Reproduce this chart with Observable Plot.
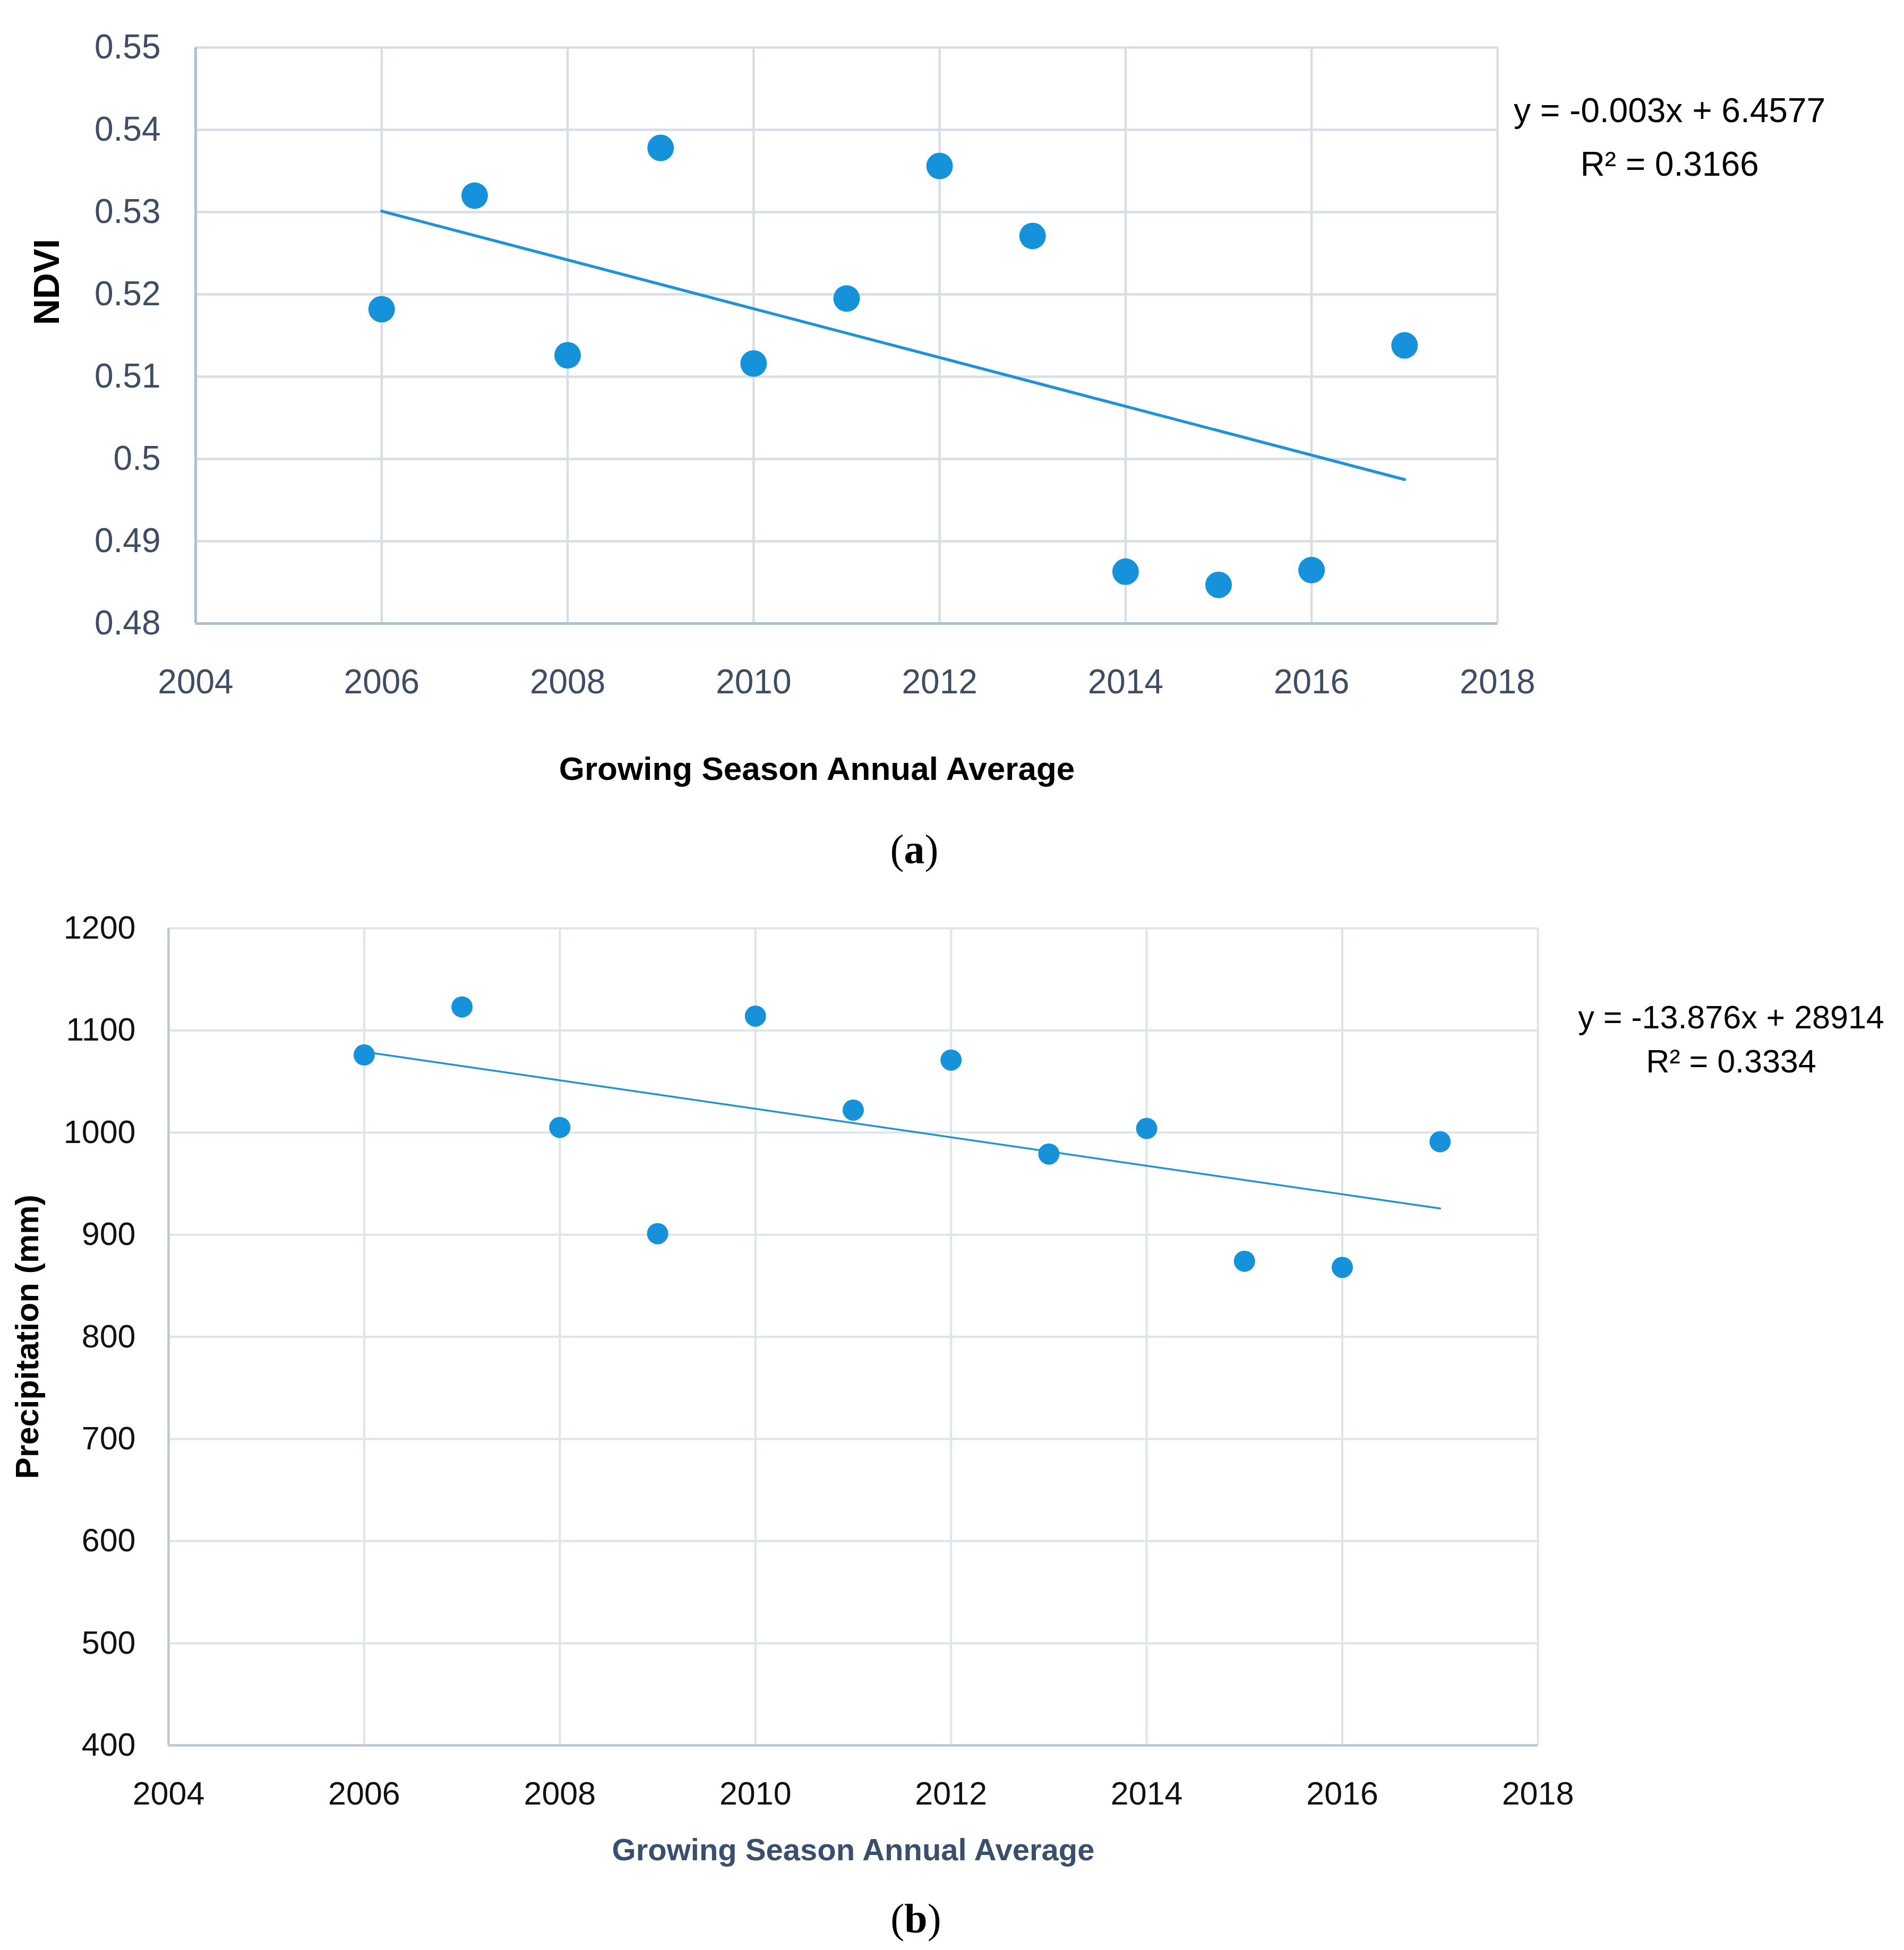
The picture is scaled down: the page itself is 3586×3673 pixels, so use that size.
<!DOCTYPE html>
<html>
<head>
<meta charset="utf-8">
<script src="https://cdn.jsdelivr.net/npm/d3@7"></script>
<script src="https://cdn.jsdelivr.net/npm/@observablehq/plot@0.6"></script>
<style>
  html, body { margin: 0; padding: 0; background: #ffffff; }
  #wrap { position: relative; width: 3586px; height: 3673px; background: #ffffff; overflow: hidden; }
  #wrap svg { position: absolute; left: 0; }
  .cap { position: absolute; transform: translate(-50%, -50%); font-family: "Liberation Serif", "Times New Roman", serif; font-size: 78px; line-height: 1; color: #000; white-space: nowrap; }
</style>
</head>
<body>
<div id="wrap"></div>
<script>
// ---- data ----
const years = [2006, 2007, 2008, 2009, 2010, 2011, 2012, 2013, 2014, 2015, 2016, 2017];
const ndvi = [0.5182, 0.5320, 0.5126, 0.5378, 0.5116, 0.5195, 0.5356, 0.5271, 0.4863, 0.4847, 0.4865, 0.5138];
const precip = [1076, 1123, 1005, 901, 1114, 1022, 1071, 979, 1004, 874, 868, 991];
const yearTicks = [2004, 2006, 2008, 2010, 2012, 2014, 2016, 2018];
const ndviTicks = [0.48, 0.49, 0.50, 0.51, 0.52, 0.53, 0.54, 0.55];
const precipTicks = [400, 500, 600, 700, 800, 900, 1000, 1100, 1200];
const xTitle = "Growing Season Annual Average";
const ndviLabel = "NDVI";
const precipLabel = "Precipitation (mm)";
const ndviEq = ["y = -0.003x + 6.4577", "R\u00B2 = 0.3166"];
const precipEq = ["y = -13.876x + 28914", "R\u00B2 = 0.3334"];

const ndviData = years.map((year, i) => ({year, value: ndvi[i]}));
const precipData = years.map((year, i) => ({year, value: precip[i]}));

const SANS = "Liberation Sans, Arial, sans-serif";
const DOT = "#1592D9";
const W = 3586;

// ---- chart (a) ----
const m1 = {left: 368, right: W - 2820, top: 89, bottom: 1700 - 1174};
const chartA = Plot.plot({
  width: W,
  height: 1700,
  marginLeft: m1.left, marginRight: m1.right, marginTop: m1.top, marginBottom: m1.bottom,
  style: {fontFamily: SANS, fontSize: "64px", color: "#3E4D63", background: "#ffffff", overflow: "visible"},
  x: {domain: [2004, 2018], ticks: yearTicks, tickFormat: d => String(d), tickSize: 0, tickPadding: 86, label: null},
  y: {domain: [0.48, 0.55], ticks: ndviTicks, tickFormat: d => String(+d.toFixed(2)), tickSize: 0, tickPadding: 66, label: null},
  marks: [
    Plot.ruleX(yearTicks, {stroke: "#D8DEE6", strokeWidth: 4.5}),
    Plot.ruleY(ndviTicks, {stroke: "#D8DEE6", strokeWidth: 4.5}),
    Plot.ruleX([yearTicks[0]], {stroke: "#AFBFD2", strokeWidth: 5}),
    Plot.ruleY([ndviTicks[0]], {stroke: "#AFBFD2", strokeWidth: 5}),
    Plot.linearRegressionY(ndviData, {x: "year", y: "value", ci: 0, stroke: "#1F93D6", strokeWidth: 5.5}),
    Plot.dot(ndviData, {x: "year", y: "value", r: 25, fill: DOT, stroke: "none"}),
    Plot.text([xTitle], {text: d => d, frameAnchor: "bottom", lineAnchor: "middle", dx: -56, dy: 275, fontFamily: SANS, fontWeight: "bold", fontSize: 62, fill: "#000000"}),
    Plot.text([ndviLabel], {text: d => d, frameAnchor: "left", lineAnchor: "middle", rotate: -90, textAnchor: "middle", dx: -279, dy: -101, fontFamily: SANS, fontWeight: "bold", fontSize: 68, fill: "#000000"}),
    Plot.text([ndviEq[0]], {text: d => d, frameAnchor: "top-right", lineAnchor: "middle", textAnchor: "middle", dx: 324, dy: 120, fontFamily: SANS, fontSize: 64, fill: "#000000"}),
    Plot.text([ndviEq[1]], {text: d => d, frameAnchor: "top-right", lineAnchor: "middle", textAnchor: "middle", dx: 324, dy: 221, fontFamily: SANS, fontSize: 64, fill: "#000000"})
  ]
});
chartA.style.top = "0px";

// ---- chart (b) ----
const top2 = 1700;
const m2 = {left: 317, right: W - 2896, top: 1748 - top2, bottom: 3673 - 3287};
const chartB = Plot.plot({
  width: W,
  height: 3673 - top2,
  marginLeft: m2.left, marginRight: m2.right, marginTop: m2.top, marginBottom: m2.bottom,
  style: {fontFamily: SANS, fontSize: "61px", color: "#111111", background: "#ffffff", overflow: "visible"},
  x: {domain: [2004, 2018], ticks: yearTicks, tickFormat: d => String(d), tickSize: 0, tickPadding: 68, label: null},
  y: {domain: [400, 1200], ticks: precipTicks, tickFormat: d => String(d), tickSize: 0, tickPadding: 62, label: null},
  marks: [
    Plot.ruleX(yearTicks, {stroke: "#DEE4EB", strokeWidth: 4}),
    Plot.ruleY(precipTicks, {stroke: "#DEE4EB", strokeWidth: 4}),
    Plot.ruleX([yearTicks[0]], {stroke: "#BCC8D8", strokeWidth: 4.5}),
    Plot.ruleY([precipTicks[0]], {stroke: "#BCC8D8", strokeWidth: 4.5}),
    Plot.linearRegressionY(precipData, {x: "year", y: "value", ci: 0, stroke: "#1F93D6", strokeWidth: 3.5}),
    Plot.dot(precipData, {x: "year", y: "value", r: 20, fill: DOT, stroke: "none"}),
    Plot.text([xTitle], {text: d => d, frameAnchor: "bottom", lineAnchor: "middle", dx: 0, dy: 198, fontFamily: SANS, fontWeight: "bold", fontSize: 58, fill: "#3A4F6D"}),
    Plot.text([precipLabel], {text: d => d, frameAnchor: "left", lineAnchor: "middle", rotate: -90, textAnchor: "middle", dx: -265, dy: 0, fontFamily: SANS, fontWeight: "bold", fontSize: 61, fill: "#000000"}),
    Plot.text([precipEq[0]], {text: d => d, frameAnchor: "top-right", lineAnchor: "middle", textAnchor: "middle", dx: 364, dy: 169, fontFamily: SANS, fontSize: 61, fill: "#000000"}),
    Plot.text([precipEq[1]], {text: d => d, frameAnchor: "top-right", lineAnchor: "middle", textAnchor: "middle", dx: 364, dy: 252, fontFamily: SANS, fontSize: 61, fill: "#000000"})
  ]
});
chartB.style.top = top2 + "px";

const wrap = document.getElementById("wrap");
wrap.appendChild(chartA);
wrap.appendChild(chartB);

function caption(letter, x, y) {
  const d = document.createElement("div");
  d.className = "cap";
  d.style.left = x + "px";
  d.style.top = y + "px";
  d.append("(");
  const b = document.createElement("b");
  b.textContent = letter;
  d.append(b);
  d.append(")");
  wrap.appendChild(d);
}
caption("a", 1722, 1600);
caption("b", 1725, 3614);
</script>
</body>
</html>
